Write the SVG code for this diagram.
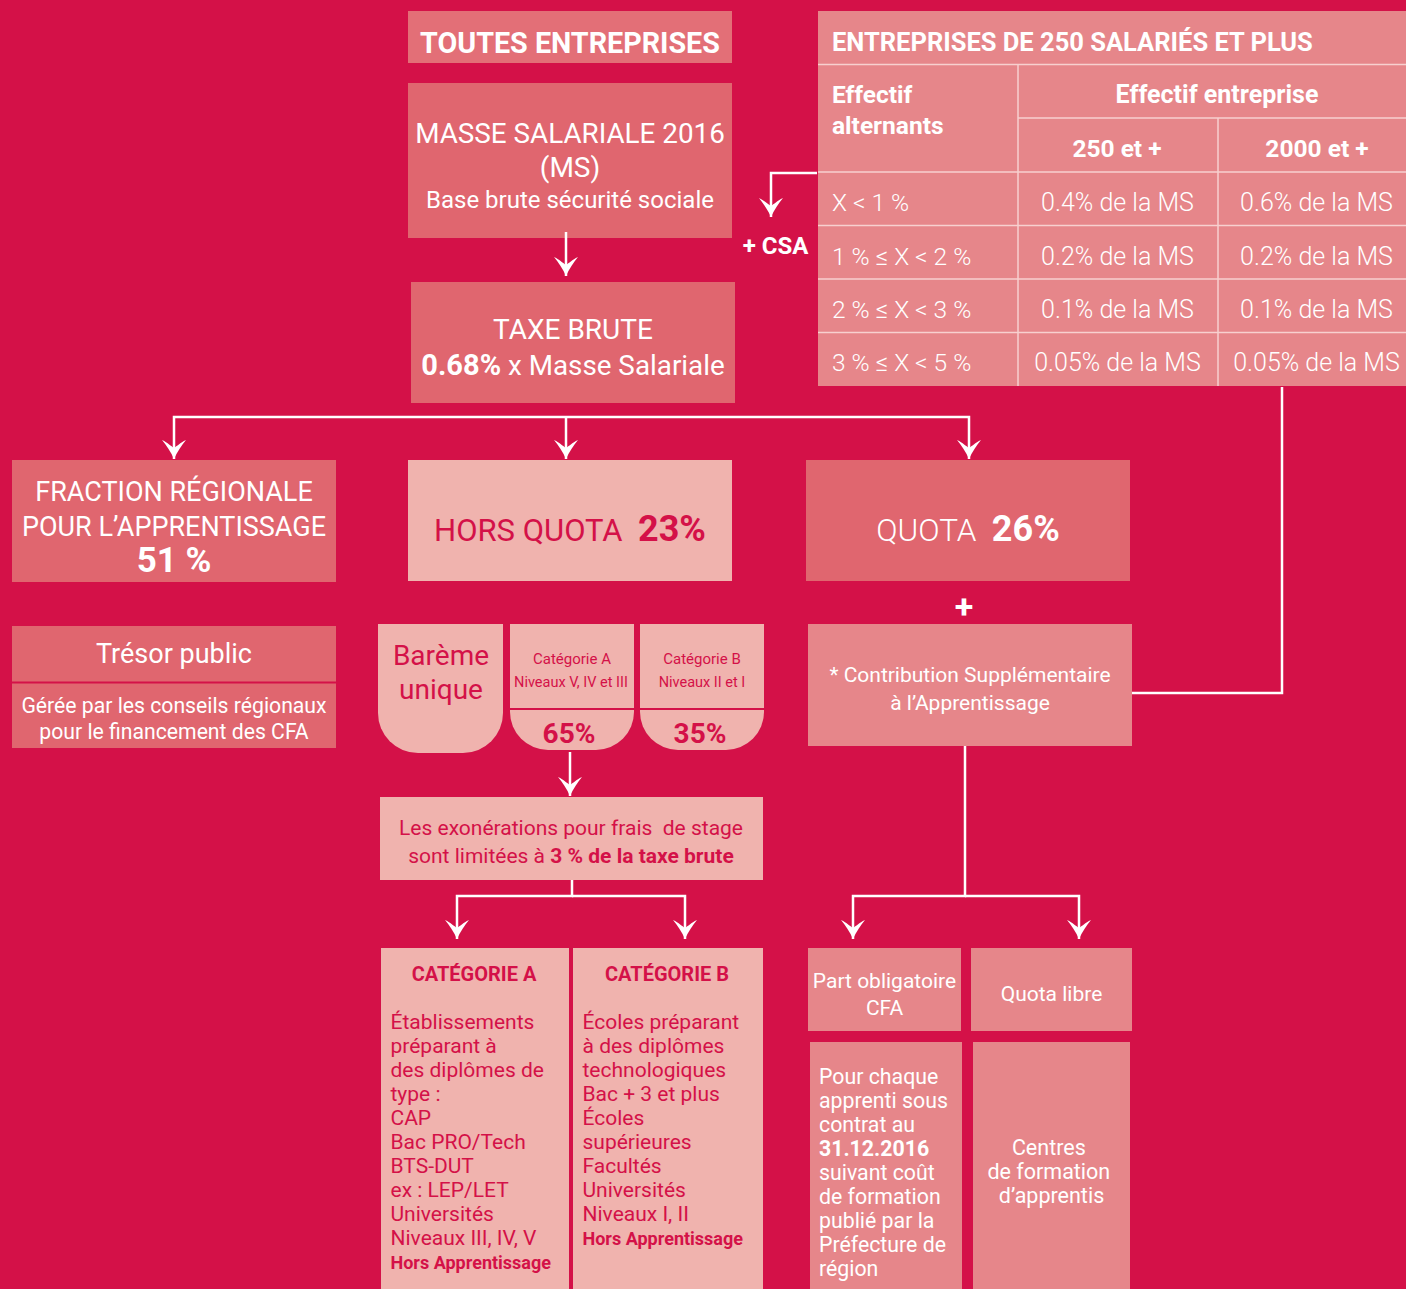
<svg xmlns="http://www.w3.org/2000/svg" width="1406" height="1289" viewBox="0 0 1406 1289">
<defs>
<style>
text{font-family:Roboto,"Liberation Sans",sans-serif;}
.w{fill:#fff;}
.c{fill:#D41148;}
.m{text-anchor:middle;}
.b{font-weight:700;}
.l{font-weight:300;}
.dk{fill:#E0666F;}
.md{fill:#E6868A;}
.lt{fill:#F0B3AE;}
.conn path{fill:none;stroke:#fff;stroke-width:2.5;stroke-linejoin:miter;}
.tl{stroke:#F7D0CF;stroke-width:1.5;fill:none;}
</style>
<marker id="ah" viewBox="-20 -13 21 26" refX="0" refY="0" markerWidth="21" markerHeight="26" markerUnits="userSpaceOnUse" orient="auto">
<path d="M0,0 C-7,-3 -14,-8 -19,-12 C-16,-6 -13,-3 -11,0 C-13,3 -16,6 -19,12 C-14,8 -7,3 0,0 Z" fill="#fff"/>
</marker>
</defs>
<rect width="1406" height="1289" fill="#D41148"/>

<g id="toutes">
<rect x="408" y="11" width="324" height="52" fill="#E36F77"/>
<text x="570" y="52.5" class="w m b" font-size="28.7">TOUTES ENTREPRISES</text>
</g>

<g id="masse">
<rect x="408" y="83" width="324" height="155" class="dk"/>
<text x="570" y="143" class="w m" font-size="27.8">MASSE SALARIALE 2016</text>
<text x="570" y="177" class="w m" font-size="28">(MS)</text>
<text x="570" y="208" class="w m" font-size="24">Base brute sécurité sociale</text>
</g>

<g id="taxe">
<rect x="411" y="282" width="324" height="121" class="dk"/>
<text x="573" y="339" class="w m" font-size="28">TAXE BRUTE</text>
<text x="573" y="375" class="w m" font-size="27.8"><tspan class="b" font-size="29">0.68%</tspan> x Masse Salariale</text>
</g>

<g id="csa-label">
<text x="775.5" y="254" class="w m b" font-size="24">+ CSA</text>
</g>

<g id="table">
<rect x="818" y="11" width="588" height="375" class="md"/>
<path class="tl" d="M818,64.5 H1406 M1018,64.5 V386 M1018,118 H1406 M1218,118 V386 M818,172 H1406 M818,225.5 H1406 M818,279 H1406 M818,332.5 H1406"/>
<text x="832" y="51" class="w b" font-size="25.5">ENTREPRISES DE 250 SALARIÉS ET PLUS</text>
<text x="832" y="103" class="w b" font-size="24.5">Effectif</text>
<text x="832" y="134" class="w b" font-size="24.5">alternants</text>
<text x="1217" y="103" class="w m b" font-size="25">Effectif entreprise</text>
<text x="1117" y="157" class="w m b" font-size="24.5">250 et +</text>
<text x="1317" y="157" class="w m b" font-size="24.5">2000 et +</text>
<text x="832" y="211" class="w l" font-size="24.5">X &lt; 1 %</text>
<text x="832" y="264.5" class="w l" font-size="24.5">1 % ≤ X &lt; 2 %</text>
<text x="832" y="318" class="w l" font-size="24.5">2 % ≤ X &lt; 3 %</text>
<text x="832" y="371" class="w l" font-size="24.5">3 % ≤ X &lt; 5 %</text>
<text x="1117.5" y="211" class="w m l" font-size="25">0.4% de la MS</text>
<text x="1316.5" y="211" class="w m l" font-size="25">0.6% de la MS</text>
<text x="1117.5" y="264.5" class="w m l" font-size="25">0.2% de la MS</text>
<text x="1316.5" y="264.5" class="w m l" font-size="25">0.2% de la MS</text>
<text x="1117.5" y="318" class="w m l" font-size="25">0.1% de la MS</text>
<text x="1316.5" y="318" class="w m l" font-size="25">0.1% de la MS</text>
<text x="1117.5" y="371" class="w m l" font-size="25">0.05% de la MS</text>
<text x="1316.5" y="371" class="w m l" font-size="25">0.05% de la MS</text>
</g>

<g id="fraction">
<rect x="12" y="460" width="324" height="122" class="dk"/>
<text x="174" y="501" class="w m" font-size="27">FRACTION RÉGIONALE</text>
<text x="174" y="536" class="w m" font-size="27">POUR L’APPRENTISSAGE</text>
<text x="174" y="572" class="w m b" font-size="35">51 %</text>
</g>

<g id="hors-quota">
<rect x="408" y="460" width="324" height="121" class="lt"/>
<text x="570" y="541" class="c m" font-size="31" xml:space="preserve">HORS QUOTA  <tspan class="b" font-size="36">23%</tspan></text>
</g>

<g id="quota">
<rect x="806" y="460" width="324" height="121" class="dk"/>
<text x="968" y="541" class="w m l" font-size="31.5" xml:space="preserve">QUOTA  <tspan font-weight="700" font-size="36">26%</tspan></text>
</g>

<g id="plus">
<text x="964" y="618" class="w m b" font-size="34">+</text>
</g>

<g id="tresor">
<rect x="12" y="626" width="324" height="122" class="dk"/>
<line x1="12" y1="682.5" x2="336" y2="682.5" stroke="#D41148" stroke-width="2"/>
<text x="174" y="663" class="w m" font-size="27">Trésor public</text>
<text x="174" y="713" class="w m" font-size="21.2">Gérée par les conseils régionaux</text>
<text x="174" y="739" class="w m" font-size="21.2">pour le financement des CFA</text>
</g>

<g id="bareme">
<path d="M378,624 H503 V713 A40,40 0 0 1 463,753 H418 A40,40 0 0 1 378,713 Z" class="lt"/>
<text x="441" y="665" class="c m" font-size="28">Barème</text>
<text x="441" y="699" class="c m" font-size="28">unique</text>
</g>

<g id="cat-a-small">
<path d="M510,624 H634 V712 A38,38 0 0 1 596,750 H548 A38,38 0 0 1 510,712 Z" class="lt"/>
<line x1="510" y1="709" x2="634" y2="709" stroke="#D41148" stroke-width="2"/>
<text x="572" y="663.5" class="c m" font-size="15">Catégorie A</text>
<text x="571" y="686.5" class="c m" font-size="14.5">Niveaux V, IV et III</text>
<text x="569" y="743" class="c m b" font-size="28">65%</text>
</g>

<g id="cat-b-small">
<path d="M640,624 H764 V712 A38,38 0 0 1 726,750 H678 A38,38 0 0 1 640,712 Z" class="lt"/>
<line x1="640" y1="709" x2="764" y2="709" stroke="#D41148" stroke-width="2"/>
<text x="702" y="663.5" class="c m" font-size="15">Catégorie B</text>
<text x="702" y="686.5" class="c m" font-size="14.5">Niveaux II et I</text>
<text x="700" y="743" class="c m b" font-size="28">35%</text>
</g>

<g id="csa">
<rect x="808" y="624" width="324" height="122" class="md"/>
<text x="970" y="682" class="w m" font-size="21">* Contribution Supplémentaire</text>
<text x="970" y="710" class="w m" font-size="21">à l’Apprentissage</text>
</g>

<g id="exonerations">
<rect x="380" y="797" width="383" height="83" class="lt"/>
<text x="571" y="835" class="c m" font-size="21" xml:space="preserve">Les exonérations pour frais  de stage</text>
<text x="571" y="862.5" class="c m" font-size="21">sont limitées à <tspan class="b">3 % de la taxe brute</tspan></text>
</g>

<g id="categorie-a">
<rect x="381" y="948" width="188" height="341" class="lt"/>
<text x="474" y="981" class="c m b" font-size="20">CATÉGORIE A</text>
<text class="c" font-size="21">
<tspan x="390.5" y="1029">Établissements</tspan>
<tspan x="390.5" y="1053">préparant à</tspan>
<tspan x="390.5" y="1077">des diplômes de</tspan>
<tspan x="390.5" y="1101">type :</tspan>
<tspan x="390.5" y="1125">CAP</tspan>
<tspan x="390.5" y="1149">Bac PRO/Tech</tspan>
<tspan x="390.5" y="1173">BTS-DUT</tspan>
<tspan x="390.5" y="1197">ex : LEP/LET</tspan>
<tspan x="390.5" y="1221">Universités</tspan>
<tspan x="390.5" y="1245">Niveaux III, IV, V</tspan>
</text>
<text x="390.5" y="1268.5" class="c b" font-size="18">Hors Apprentissage</text>
</g>

<g id="categorie-b">
<rect x="573" y="948" width="190" height="341" class="lt"/>
<text x="667" y="981" class="c m b" font-size="20">CATÉGORIE B</text>
<text class="c" font-size="21">
<tspan x="582.5" y="1029">Écoles préparant</tspan>
<tspan x="582.5" y="1053">à des diplômes</tspan>
<tspan x="582.5" y="1077">technologiques</tspan>
<tspan x="582.5" y="1101">Bac + 3 et plus</tspan>
<tspan x="582.5" y="1125">Écoles</tspan>
<tspan x="582.5" y="1149">supérieures</tspan>
<tspan x="582.5" y="1173">Facultés</tspan>
<tspan x="582.5" y="1197">Universités</tspan>
<tspan x="582.5" y="1221">Niveaux I, II</tspan>
</text>
<text x="582.5" y="1245" class="c b" font-size="18">Hors Apprentissage</text>
</g>

<g id="part-obligatoire">
<rect x="808" y="948" width="153" height="83" class="md"/>
<text x="884.5" y="987.5" class="w m" font-size="21">Part obligatoire</text>
<text x="884.5" y="1015" class="w m" font-size="21">CFA</text>
</g>

<g id="quota-libre">
<rect x="971" y="948" width="161" height="83" class="md"/>
<text x="1051.5" y="1001" class="w m" font-size="21">Quota libre</text>
</g>

<g id="pour-chaque">
<rect x="810" y="1042" width="152" height="247" class="md"/>
<text class="w" font-size="21.3">
<tspan x="819" y="1083.5">Pour chaque</tspan>
<tspan x="819" y="1107.5">apprenti sous</tspan>
<tspan x="819" y="1131.5">contrat au</tspan>
<tspan x="819" y="1155.5" font-weight="700">31.12.2016</tspan>
<tspan x="819" y="1179.5">suivant coût</tspan>
<tspan x="819" y="1203.5">de formation</tspan>
<tspan x="819" y="1227.5">publié par la</tspan>
<tspan x="819" y="1251.5">Préfecture de</tspan>
<tspan x="819" y="1275.5">région</tspan>
</text>
</g>

<g id="centres">
<rect x="973" y="1042" width="157" height="247" class="md"/>
<text class="w m" font-size="21.5">
<tspan x="1051.5" y="1155">Centres</tspan>
<tspan x="1051.5" y="1179">de formation</tspan>
<tspan x="1051.5" y="1203">d’apprentis</tspan>
</text>
</g>

<g id="connectors" class="conn">
<path d="M566,232 V276" marker-end="url(#ah)"/>
<path d="M817,173 H771 V217" marker-end="url(#ah)"/>
<path d="M566,417 H174 V459" marker-end="url(#ah)"/>
<path d="M566,417 V459" marker-end="url(#ah)"/>
<path d="M566,417 H969 V459" marker-end="url(#ah)"/>
<path d="M570,752 V796" marker-end="url(#ah)"/>
<path d="M572,880 V896 H457 V939" marker-end="url(#ah)"/>
<path d="M572,896 H685 V939" marker-end="url(#ah)"/>
<path d="M965,746 V896 H853 V939" marker-end="url(#ah)"/>
<path d="M965,896 H1079 V939" marker-end="url(#ah)"/>
<path d="M1282,387 V693 H1132"/>
</g>
</svg>
